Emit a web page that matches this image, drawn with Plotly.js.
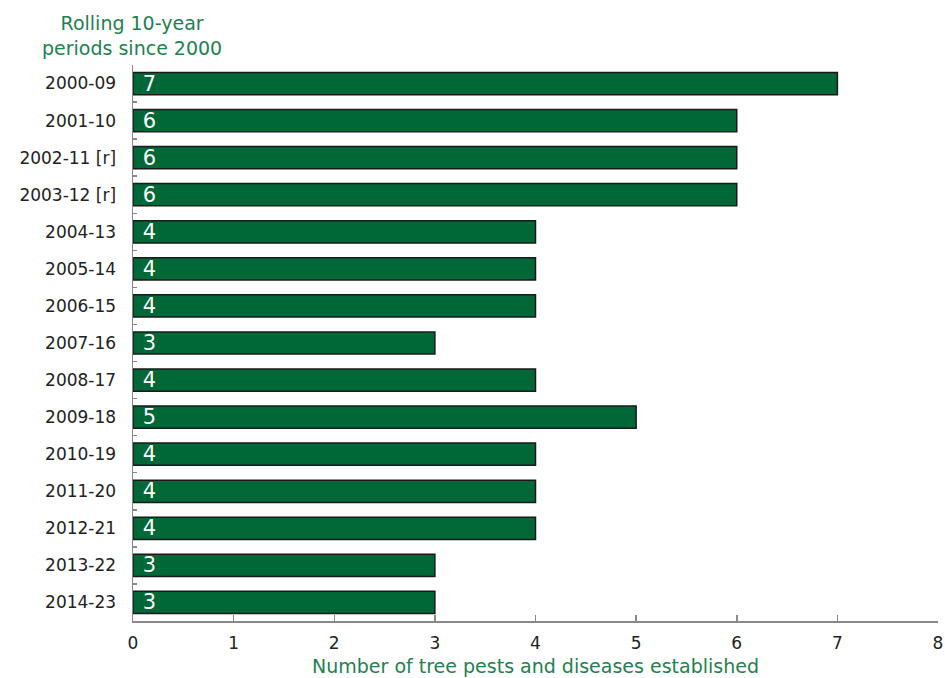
<!DOCTYPE html>
<html><head><meta charset="utf-8">
<script src="https://cdn.plot.ly/plotly-3.0.1.min.js"></script>
<style>html,body{margin:0;padding:0;background:#fff}</style>
</head><body>
<div id="chart" style="width:945px;height:678px"></div>
<script>
const periods = ["2000-09","2001-10","2002-11 [r]","2003-12 [r]","2004-13","2005-14","2006-15","2007-16","2008-17","2009-18","2010-19","2011-20","2012-21","2013-22","2014-23"];
const counts = [7,6,6,6,4,4,4,3,4,5,4,4,4,3,3];
const xTicks = [0,1,2,3,4,5,6,7,8];

const trace = {
  type: 'bar', orientation: 'h',
  x: counts, y: periods,
  text: counts.map(String),
  texttemplate: '\u00a0%{text}',
  textposition: 'inside', insidetextanchor: 'start', textangle: 0, constraintext: 'none',
  textfont: {family: 'DejaVu Sans', size: 21, color: '#ffffff'},
  marker: {color: '#006837', line: {color: '#1a1a1a', width: 1.5}},
  width: 0.6, hoverinfo: 'none', cliponaxis: false
};
const layout = {
  width: 945, height: 678,
  margin: {l: 133, r: 7, t: 65, b: 57},
  paper_bgcolor: '#fff', plot_bgcolor: '#fff',
  font: {family: 'DejaVu Sans', size: 17, color: '#222'},
  showlegend: false,
  xaxis: {
    range: [0, 8], tickvals: xTicks, ticktext: xTicks.map(String),
    showgrid: false, zeroline: false, showline: true, linecolor: '#888', linewidth: 1.5,
    ticks: 'inside', ticklen: 6, tickcolor: '#888', tickwidth: 1.5,
    tickfont: {size: 17, color: '#222'}, ticklabelstandoff: 6,
    title: {text: 'Number of tree pests and diseases established', font: {size: 19, color: '#1e8150'}, standoff: 8}
  },
  yaxis: {
    autorange: 'reversed', type: 'category',
    showgrid: false, zeroline: false, showline: true, linecolor: '#888', linewidth: 1.5,
    ticks: 'inside', ticklen: 4, tickcolor: '#888', tickwidth: 1.5, tickson: 'boundaries',
    tickfont: {size: 17, color: '#222'}, ticklabelstandoff: 12
  },
  annotations: [{
    xref: 'paper', yref: 'paper', x: -0.001, y: 1.0, xanchor: 'center', yanchor: 'bottom',
    text: 'Rolling 10-year<br>periods since 2000', showarrow: false,
    font: {size: 19, color: '#1e8150'}, align: 'center', yshift: 4
  }]
};
Plotly.newPlot('chart', [trace], layout, {displayModeBar: false, staticPlot: true});
</script>
</body></html>
